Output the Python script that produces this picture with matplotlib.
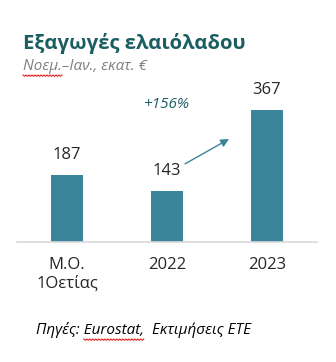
import matplotlib.pyplot as plt
import numpy as np

plt.rcParams['font.family'] = ['Open Sans', 'DejaVu Sans']

# data
categories = ['M.O.\n1Οετίας', '2022', '2023']
values = [187, 143, 367]

bar_col = '#3A8599'
title_col = '#1B5E62'

W, H = 336, 362
fig = plt.figure(figsize=(W / 100, H / 100), dpi=100)
ax = fig.add_axes([17 / W, 120 / H, 300 / W, 162 / H])

x = np.arange(len(categories))
ax.bar(x, values, width=0.32, color=bar_col, zorder=2)
ax.set_xlim(-0.5, 2.5)
ax.set_ylim(0, 450)

for i, v in zip(x, values):
    ax.annotate(str(v), (i, v), xytext=(0, 14.4), textcoords='offset points',
                ha='center', va='center', fontsize=12, color='#262626')

for s in ['top', 'right', 'left']:
    ax.spines[s].set_visible(False)
ax.spines['bottom'].set_color('#D9D9D9')
ax.spines['bottom'].set_linewidth(1.2)
ax.set_yticks([])
ax.set_xticks(x)
ax.set_xticklabels(categories, fontsize=12, color='#262626', linespacing=1.25)
ax.tick_params(axis='x', length=0, pad=10.5)
ax.set_facecolor('none')

# growth arrow
ax.annotate('', xy=(1.62, 286), xytext=(1.18, 217),
            arrowprops=dict(arrowstyle='-|>', color=bar_col, lw=1.0,
                            mutation_scale=12, shrinkA=0, shrinkB=0))
ax.text(1.0, 383, '+156%', ha='center', va='center', fontsize=11,
        style='italic', color=title_col)

fig.text(23 / W, 1 - 44 / H, 'Εξαγωγές ελαιόλαδου', fontsize=14.6,
         fontweight='bold', color=title_col, va='center', ha='left')
fig.text(23 / W, 1 - 67 / H, 'Νοεμ.–Ιαν., εκατ. €', fontsize=11,
         style='italic', color='#7F7F7F', va='center', ha='left')
fig.text(36 / W, 1 - 330 / H, 'Πηγές: Eurostat,  Εκτιμήσεις ΕΤΕ',
         fontsize=11, style='italic', color='black', va='center', ha='left')

# spell-check squiggles under "Νοεμ." and "Eurostat,"
def squiggle(x0, x1, y):
    xs = np.arange(x0, x1 + 0.1, 1.5)
    ys = y + np.where(np.arange(len(xs)) % 2 == 0, 0.0, 1.3)
    fig.add_artist(plt.Line2D(xs / W, 1 - ys / H, color='#E02020', lw=0.8))

r = fig.canvas.get_renderer()
def text_w(s, **kw):
    t = fig.text(0, 0, s, **kw)
    w = t.get_window_extent(r).width
    t.remove()
    return w

w1 = text_w('Νοεμ.', fontsize=11, style='italic')
squiggle(23, 23 + w1, 75)
w0 = text_w('Πηγές: ', fontsize=11, style='italic')
w2 = text_w('Eurostat,', fontsize=11, style='italic')
squiggle(36 + w0, 36 + w0 + w2, 339)

fig.savefig('out.png', dpi=100)
